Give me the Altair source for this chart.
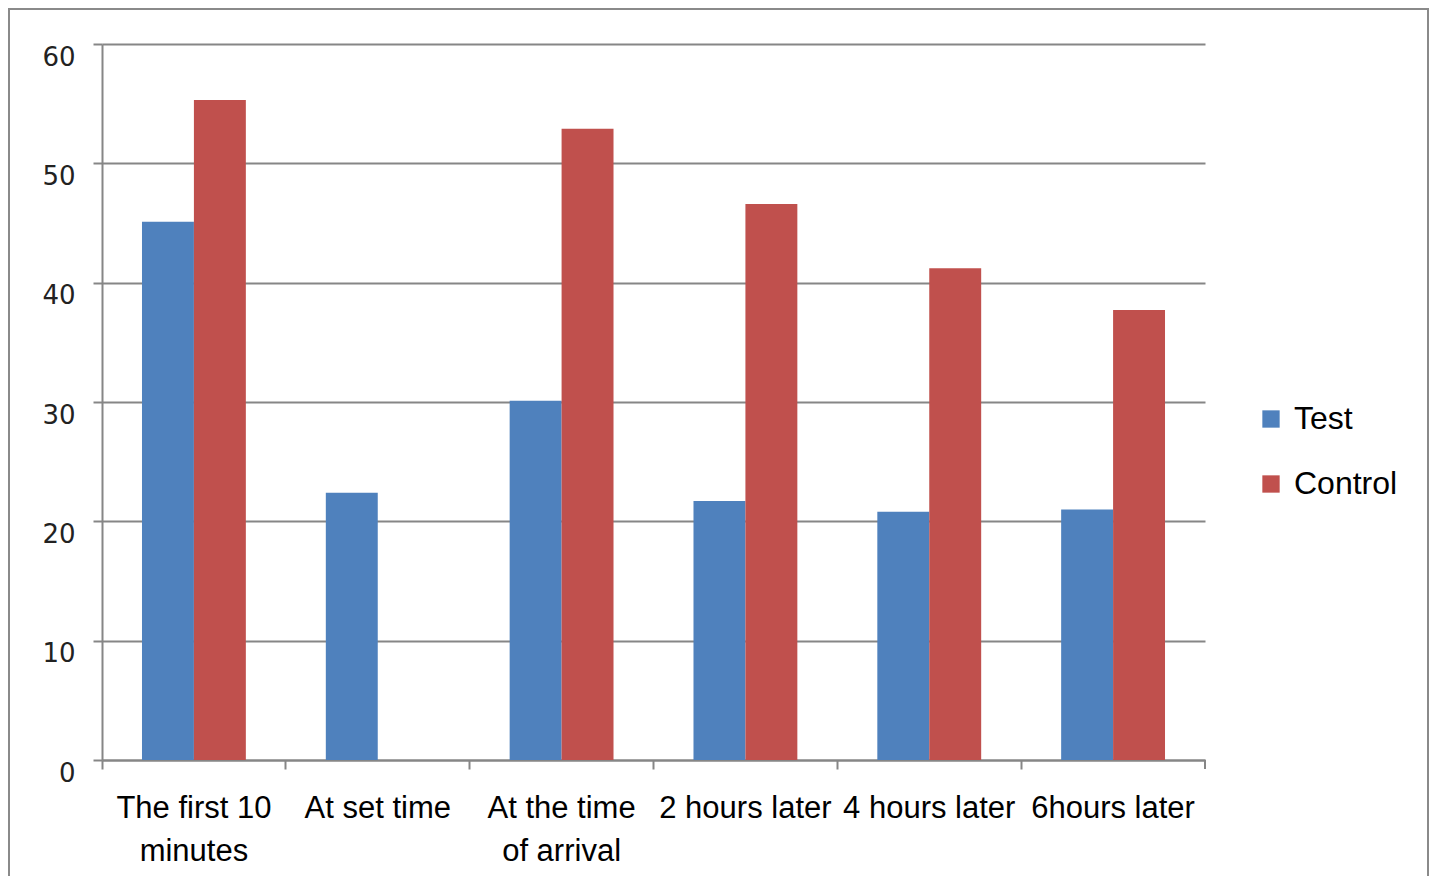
import altair as alt
import pandas as pd

categories = ["The first 10 minutes", "At set time", "At the time of arrival",
              "2 hours later", "4 hours later", "6hours later"]
test_values = [45.1, 22.4, 30.1, 21.7, 20.8, 21.0]
control_values = [55.3, None, 52.9, 46.6, 41.2, 37.7]
series = ["Test", "Control"]
colors = ["#4F81BD", "#C0504D"]

rows = []
for c, t, k in zip(categories, test_values, control_values):
    rows.append({"cat": c, "series": "Test", "value": t})
    if k is not None:
        rows.append({"cat": c, "series": "Control", "value": k})
df = pd.DataFrame(rows)

W, H = 1103, 716
grey = "#868686"

label_expr = ("datum.label == 'The first 10 minutes' ? ['The first 10', 'minutes'] : "
              "datum.label == 'At the time of arrival' ? ['At the time', 'of arrival'] : datum.label")

bars = alt.Chart(df).mark_bar().encode(
    x=alt.X("cat:N", sort=categories, title=None,
            scale=alt.Scale(paddingInner=0, paddingOuter=0),
            axis=alt.Axis(labelAngle=0, bandPosition=0, labelExpr=label_expr,
                          labelFont="Liberation Sans", labelFontSize=31, labelColor="#000",
                          labelPadding=24, labelLineHeight=43, tickSize=9, tickColor=grey,
                          tickWidth=2, domainColor=grey, domainWidth=2, grid=False,
                          labelBound=False, labelOverlap=False)),
    xOffset=alt.XOffset("series:N", sort=series,
                        scale=alt.Scale(paddingOuter=0.77, paddingInner=0)),
    y=alt.Y("value:Q", title=None,
            scale=alt.Scale(domain=[0, 60], nice=False),
            axis=alt.Axis(values=[0, 10, 20, 30, 40, 50, 60], labelFont="DejaVu Sans",
                          labelFontSize=26, labelColor="#222", labelPadding=18,
                          labelOffset=13, tickSize=9, tickColor=grey, tickWidth=2,
                          domainColor=grey, domainWidth=2, gridColor=grey, gridWidth=2)),
    color=alt.Color("series:N", sort=series,
                    scale=alt.Scale(domain=series, range=colors),
                    legend=alt.Legend(title=None, orient="none", legendX=1153, legendY=359,
                                      symbolType="square", symbolSize=300,
                                      symbolStrokeWidth=0, labelFont="Liberation Sans",
                                      labelFontSize=32, labelColor="#000",
                                      rowPadding=33, padding=0, labelOffset=7)),
)

end_tick = alt.Chart(df).mark_rule(color=grey, strokeWidth=2).encode(
    x=alt.value(W), y=alt.value(H), y2=alt.value(H + 9))

frame = alt.Chart(df).mark_rect(fillOpacity=0, stroke="#8a8a8a", strokeWidth=2).encode(
    x=alt.value(-93), x2=alt.value(1326), y=alt.value(-35), y2=alt.value(870))

chart = alt.layer(frame, bars, end_tick).properties(
    width=W, height=H,
    autosize=alt.AutoSizeParams(type="none"),
    padding={"left": 94, "top": 36, "right": 224, "bottom": 116},
).configure(background="white").configure_view(stroke=None)

chart.save("out.html", embed_options={"renderer": "svg", "actions": False})
